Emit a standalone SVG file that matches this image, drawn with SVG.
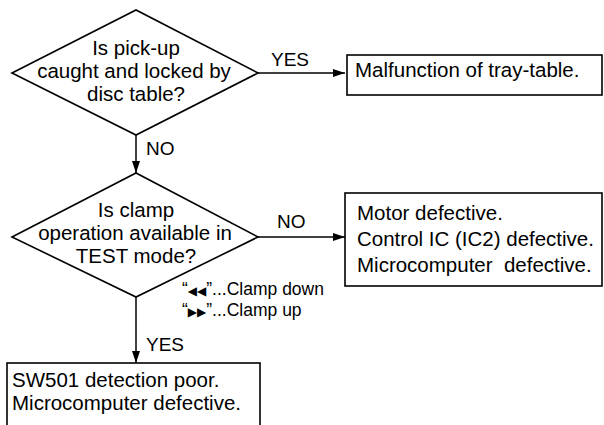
<svg xmlns="http://www.w3.org/2000/svg" width="604" height="425" viewBox="0 0 604 425">
<defs>
<style>
.shape{fill:#fff;stroke:#000;stroke-width:1.6}
.line{fill:none;stroke:#000;stroke-width:1.5}
text{font-family:"Liberation Sans",Arial,sans-serif;fill:#000}
.t{font-size:20.5px}
.c{text-anchor:middle}
.lbl{font-size:19px}
.ann{font-size:17.5px}
.tri{font-size:12px;font-family:"DejaVu Sans",sans-serif}
</style>
<marker id="ah" markerWidth="12" markerHeight="8" refX="12" refY="4" orient="auto" markerUnits="userSpaceOnUse">
<path d="M0,0 L12,4 L0,8 Z" fill="#000"/>
</marker>
</defs>
<rect width="604" height="425" fill="#fff"/>
<g id="connectors">
<line class="line" x1="258" y1="73" x2="345" y2="73" marker-end="url(#ah)"/>
<line class="line" x1="136" y1="135" x2="136" y2="173" marker-end="url(#ah)"/>
<line class="line" x1="258" y1="237" x2="345" y2="237" marker-end="url(#ah)"/>
<line class="line" x1="136" y1="297" x2="136" y2="363" marker-end="url(#ah)"/>
<text class="lbl" x="271" y="66">YES</text>
<text class="lbl" x="146" y="155">NO</text>
<text class="lbl" x="277" y="228">NO</text>
<text class="lbl" x="146" y="351">YES</text>
</g>
<g id="d1">
<polygon class="shape" points="12,73 136,10 258,73 136,135"/>
<text class="t c" x="136" y="55">Is pick-up</text>
<text class="t c" x="134" y="78">caught and locked by</text>
<text class="t c" x="136" y="101">disc table?</text>
</g>
<g id="b1">
<rect class="shape" x="347" y="55" width="255" height="40"/>
<text class="t" x="355" y="77">Malfunction of tray-table.</text>
</g>
<g id="d2">
<polygon class="shape" points="12,237 136,173 258,237 136,297"/>
<text class="t c" x="136" y="217">Is clamp</text>
<text class="t c" x="135" y="240">operation available in</text>
<text class="t c" x="136" y="263">TEST mode?</text>
</g>
<g id="note">
<text class="ann" x="182" y="295">“<tspan class="tri">◀◀</tspan>”...Clamp down</text>
<text class="ann" x="182" y="316">“<tspan class="tri">▶▶</tspan>”...Clamp up</text>
</g>
<g id="b2">
<rect class="shape" x="345" y="193" width="257" height="93"/>
<text class="t" x="357" y="220">Motor defective.</text>
<text class="t" x="357" y="246">Control IC (IC2) defective.</text>
<text class="t" x="357" y="272" xml:space="preserve">Microcomputer  defective.</text>
</g>
<g id="b3">
<rect class="shape" x="7" y="363" width="253" height="70"/>
<text class="t" x="12" y="387">SW501 detection poor.</text>
<text class="t" x="12" y="410">Microcomputer defective.</text>
</g>
</svg>
